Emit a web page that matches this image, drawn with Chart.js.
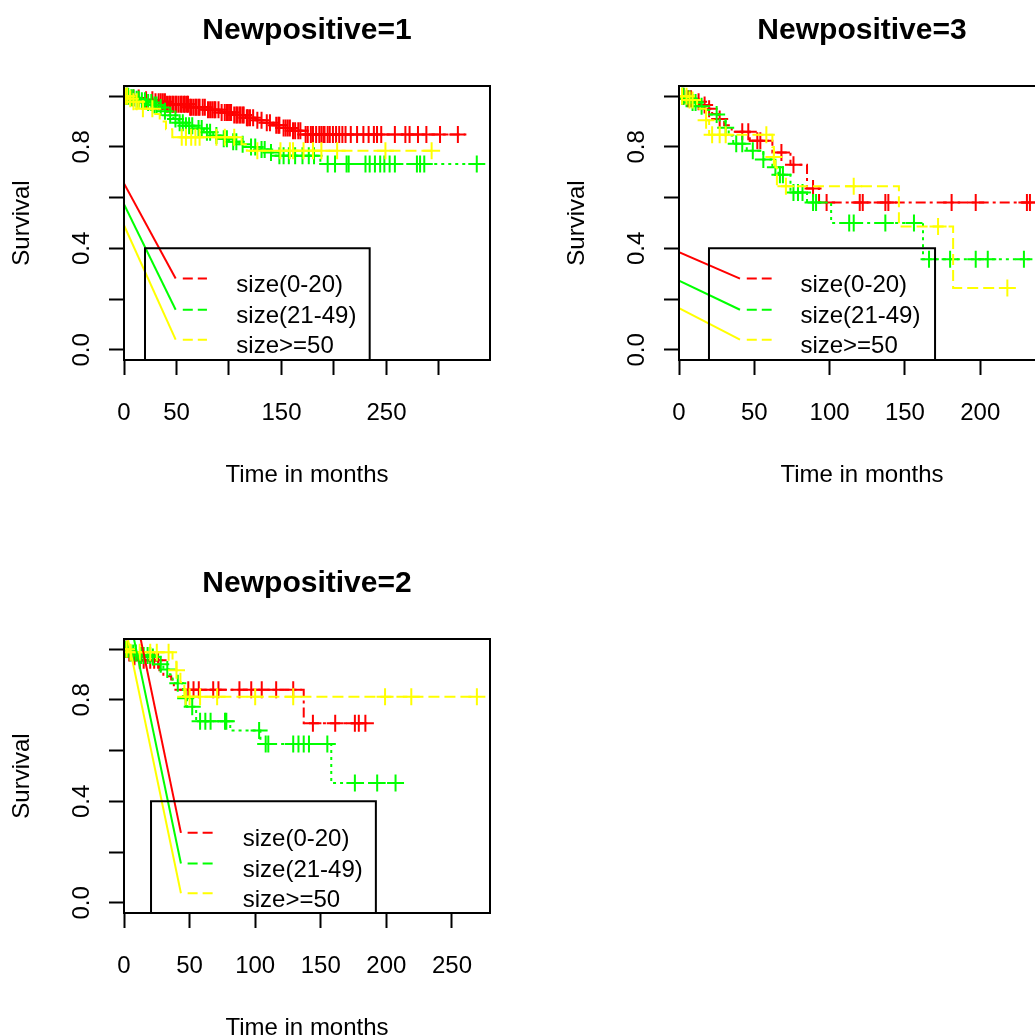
<!DOCTYPE html>
<html>
<head>
<meta charset="utf-8">
<script src="https://cdn.jsdelivr.net/npm/chart.js@4.4.1/dist/chart.umd.min.js"></script>
<style>
html, body { margin: 0; padding: 0; background: #fff; overflow: hidden; width: 1035px; height: 1035px; }
.panel { position: absolute; }
</style>
</head>
<body>
<div class="panel" style="left:0;top:0"><canvas id="p1" width="553" height="553"></canvas></div>
<div class="panel" style="left:555px;top:0"><canvas id="p2" width="553" height="553"></canvas></div>
<div class="panel" style="left:0;top:553px"><canvas id="p3" width="553" height="553"></canvas></div>
<script>
// Kaplan-Meier curves by tumour size, one panel per Newpositive group

// shared axis ticks
const yTicks = [0, 0.2, 0.4, 0.6, 0.8, 1.0];
const yTickLabels = ['0.0', '', '0.4', '', '0.8', ''];
const p1XTicks = [0, 50, 100, 150, 200, 250, 300];
const p1XTickLabels = ['0', '50', '', '150', '', '250', ''];
const p2XTicks = [0, 50, 100, 150, 200];
const p2XTickLabels = ['0', '50', '100', '150', '200'];
const p3XTicks = [0, 50, 100, 150, 200, 250];
const p3XTickLabels = ['0', '50', '100', '150', '200', '250'];
const legendLabels = ['size(0-20)', 'size(21-49)', 'size>=50'];

// Newpositive=1
const p1RedTime = [0, 8, 18, 30, 40, 62, 80, 92, 104, 116, 126, 135, 142, 150, 160, 171, 325];
const p1RedSurv = [1, 0.993, 0.986, 0.978, 0.968, 0.956, 0.946, 0.936, 0.926, 0.915, 0.905, 0.895, 0.885, 0.874, 0.864, 0.849, 0.849];
const p1RedCensor = [3, 9, 14, 21, 27, 30, 33, 35, 37, 39, 41, 43, 44, 46, 47, 49, 50, 52, 54, 55, 57, 58, 60, 61, 63, 64, 66, 68, 69, 71, 72, 75, 77, 80, 82, 84, 86, 87, 90, 93, 96, 98, 99, 101, 102, 105, 107, 108, 110, 111, 113, 114, 117, 118, 120, 123, 127, 131, 136, 139, 145, 147, 148, 152, 154, 156, 158, 161, 163, 166, 168, 173, 175, 178, 180, 183, 186, 188, 190, 191, 194, 196, 199, 202, 205, 208, 211, 216, 222, 228, 233, 238, 241, 245, 258, 268, 272, 280, 288, 301, 318];
const p1GreenTime = [0, 5, 10, 16, 22, 28, 33, 37, 42, 47, 52, 58, 68, 76, 85, 92, 100, 110, 118, 128, 137, 143, 187, 336];
const p1GreenSurv = [1, 0.994, 0.988, 0.982, 0.975, 0.965, 0.955, 0.94, 0.925, 0.91, 0.895, 0.883, 0.872, 0.858, 0.845, 0.832, 0.82, 0.81, 0.8, 0.79, 0.778, 0.765, 0.733, 0.733];
const p1GreenCensor = [2, 4, 7, 9, 12, 14, 17, 20, 23, 26, 29, 31, 35, 39, 44, 49, 53, 56, 59, 62, 65, 71, 74, 79, 82, 88, 95, 98, 104, 107, 113, 121, 125, 131, 134, 140, 148, 152, 157, 163, 170, 176, 181, 194, 201, 212, 214, 230, 234, 239, 244, 248, 253, 258, 279, 282, 286, 336];
const p1YellowTime = [0, 4, 8, 14, 28, 34, 40, 46, 112, 117, 293];
const p1YellowSurv = [1, 0.99, 0.978, 0.95, 0.93, 0.9, 0.87, 0.838, 0.81, 0.785, 0.785];
const p1YellowCensor = [1, 3, 6, 9, 12, 18, 27, 55, 59, 64, 68, 72, 88, 96, 105, 127, 149, 158, 161, 171, 180, 188, 203, 249, 293];

// Newpositive=3
const p2RedTime = [0, 4, 9, 14, 18, 22, 26, 30, 35, 47, 62, 74, 85, 93, 234];
const p2RedSurv = [1, 0.99, 0.978, 0.965, 0.95, 0.93, 0.91, 0.885, 0.86, 0.824, 0.778, 0.73, 0.636, 0.581, 0.581];
const p2RedCensor = [3, 6, 8, 13, 17, 20, 27, 42, 46, 52, 54, 68, 76, 89, 98, 120, 122, 137, 139, 181, 197, 231, 233];
const p2GreenTime = [0, 4, 8, 12, 16, 20, 27, 31, 33, 36, 45, 56, 62, 66, 74, 85, 101, 162, 234];
const p2GreenSurv = [1, 0.99, 0.975, 0.96, 0.945, 0.928, 0.9, 0.875, 0.845, 0.812, 0.785, 0.75, 0.72, 0.69, 0.62, 0.581, 0.5, 0.357, 0.357];
const p2GreenCensor = [2, 3, 5, 7, 9, 11, 15, 25, 31, 38, 42, 49, 56, 64, 67, 69, 76, 79, 82, 89, 91, 113, 116, 137, 156, 166, 180, 197, 205, 229];
const p2YellowTime = [0, 6, 12, 18, 20, 62, 63, 64, 65, 146, 182, 218];
const p2YellowSurv = [1, 0.985, 0.95, 0.905, 0.848, 0.8, 0.76, 0.72, 0.645, 0.486, 0.244, 0.244];
const p2YellowCensor = [2, 5, 7, 9, 18, 22, 27, 31, 58, 63, 71, 116, 172, 218];

// Newpositive=2
const p3RedTime = [0, 3, 6, 10, 27, 30, 36, 38, 137, 184];
const p3RedSurv = [1, 0.985, 0.97, 0.956, 0.917, 0.893, 0.88, 0.84, 0.708, 0.708];
const p3RedCensor = [1, 2, 4, 8, 12, 15, 20, 23, 26, 49, 53, 57, 68, 72, 88, 97, 105, 116, 129, 144, 161, 176, 179, 184];
const p3GreenTime = [0, 5, 12, 22, 25, 30, 35, 37, 45, 48, 55, 81, 104, 158, 207];
const p3GreenSurv = [1, 0.985, 0.975, 0.969, 0.94, 0.92, 0.9, 0.866, 0.806, 0.773, 0.716, 0.679, 0.626, 0.472, 0.472];
const p3GreenCensor = [1, 3, 5, 7, 9, 13, 15, 18, 20, 22, 28, 33, 41, 47, 52, 58, 62, 66, 77, 78, 103, 108, 110, 129, 133, 137, 141, 155, 176, 193, 207];
const p3YellowTime = [0, 3, 37, 40, 43, 46, 269];
const p3YellowSurv = [1, 0.988, 0.95, 0.917, 0.87, 0.8125, 0.8125];
const p3YellowCensor = [2, 5, 12, 20, 25, 34, 40, 47, 50, 58, 71, 100, 129, 199, 219, 269];

// legend placement, in data units of each panel
const p1Legend = { box: [20, 234, 0.4], rows: [0.281, 0.158, 0.04], seg: [56, 79], textX: 107,
  fromX: [0, 0, 0], fromY: [0.656, 0.574, 0.491], toX: 49.2 };
const p2Legend = { box: [19.9, 170, 0.4], rows: [0.281, 0.158, 0.04], seg: [45, 61.5], textX: 80.6,
  fromX: [0, 0, 0], fromY: [0.385, 0.273, 0.164], toX: 40.5 };
const p3Legend = { box: [20.6, 192, 0.4], rows: [0.276, 0.155, 0.038], seg: [48.5, 68], textX: 90.5,
  fromX: [12.7, 7.6, 3.0], fromY: [1.04, 1.04, 1.04], toX: 43.4 };

const FONT = '"Liberation Sans", Arial, Helvetica, sans-serif';
const colors = ['#ff0000', '#00ff00', '#ffff00'];
const dashes = [[3, 4, 10, 4], [3, 4], [11, 5]];

function survAt(time, surv, t) {
  let s = surv[0];
  for (let i = 0; i < time.length; i++) if (time[i] <= t) s = surv[i];
  return s;
}

// draws the plot frame, the main title over the plot region and the legend text
const rFrame = {
  id: 'rFrame',
  afterDraw(chart, args, opts) {
    const { ctx, chartArea: a, scales: { x, y } } = chart;
    ctx.save();
    ctx.strokeStyle = '#000';
    ctx.lineWidth = 2;
    ctx.strokeRect(a.left, a.top, a.right - a.left, a.bottom - a.top);
    ctx.fillStyle = '#000';
    ctx.font = 'bold 30px ' + FONT;
    ctx.textAlign = 'center';
    ctx.textBaseline = 'alphabetic';
    ctx.fillText(opts.title, (a.left + 490) / 2, 39);
    ctx.font = '24px ' + FONT;
    ctx.textAlign = 'left';
    legendLabels.forEach((t, i) => {
      ctx.fillText(t, x.getPixelForValue(opts.leg.textX), y.getPixelForValue(opts.leg.rows[i]) + 13.5);
    });
    ctx.restore();
  }
};

function buildPanel(id, title, xMax, xTicks, xLabels, groups, leg) {
  const datasets = [];
  groups.forEach((g, k) => {
    datasets.push({
      data: g.time.map((t, i) => ({ x: t, y: g.surv[i] })),
      borderColor: colors[k], borderWidth: 2, borderDash: dashes[k],
      stepped: 'before', pointRadius: 0, fill: false, clip: 0, order: 30 - k * 10
    });
    datasets.push({
      data: g.censor.map(t => ({ x: t, y: survAt(g.time, g.surv, t) })),
      showLine: false, pointStyle: 'cross', pointRadius: 8.5, pointBorderWidth: 2,
      pointBorderColor: colors[k], borderColor: colors[k], clip: 0, order: 29 - k * 10
    });
    datasets.push({
      data: [{ x: leg.fromX[k], y: leg.fromY[k] }, { x: leg.toX, y: leg.rows[k] }],
      borderColor: colors[k], borderWidth: 2, pointRadius: 0, clip: 0, order: 1
    });
    datasets.push({
      data: [{ x: leg.seg[0], y: leg.rows[k] }, { x: leg.seg[1], y: leg.rows[k] }],
      borderColor: colors[k], borderWidth: 2, borderDash: [10, 5], pointRadius: 0, clip: 0, order: 1
    });
  });
  datasets.push({
    data: [{ x: leg.box[0], y: -0.2 }, { x: leg.box[0], y: leg.box[2] }, { x: leg.box[1], y: leg.box[2] }, { x: leg.box[1], y: -0.2 }],
    borderColor: '#000', borderWidth: 2, pointRadius: 0, clip: 0, order: 0
  });

  new Chart(document.getElementById(id), {
    type: 'line',
    data: { datasets },
    plugins: [rFrame],
    options: {
      responsive: false,
      animation: false,
      events: [],
      layout: { padding: { top: 86, left: 0, right: 63, bottom: 0 } },
      plugins: {
        legend: { display: false },
        tooltip: { enabled: false },
        title: { display: false },
        rFrame: { leg, title }
      },
      scales: {
        x: {
          type: 'linear', position: 'bottom', min: 0, max: xMax,
          afterFit: s => { s.height = 193; },
          afterBuildTicks: s => { s.ticks = xTicks.map(v => ({ value: v })); },
          ticks: {
            autoSkip: false, maxRotation: 0, minRotation: 0, padding: 24, color: '#000',
            font: { family: FONT, size: 24 },
            callback: (v, i) => xLabels[i]
          },
          grid: { drawOnChartArea: false, drawTicks: true, tickLength: 15, tickColor: '#000', tickWidth: 2 },
          border: { display: true, color: '#000', width: 2 },
          title: { display: true, text: 'Time in months', color: '#000', font: { family: FONT, size: 24 }, padding: { top: 0, bottom: 63.6 } }
        },
        y: {
          type: 'linear', position: 'left', min: -0.04, max: 1.04,
          afterFit: s => { s.width = 124; },
          afterBuildTicks: s => { s.ticks = yTicks.map(v => ({ value: v })); },
          ticks: {
            autoSkip: false, minRotation: 90, maxRotation: 90, crossAlign: 'center', padding: 9.8, color: '#000',
            font: { family: FONT, size: 24 },
            callback: (v, i) => yTickLabels[i]
          },
          grid: { drawOnChartArea: false, drawTicks: true, tickLength: 15, tickColor: '#000', tickWidth: 2 },
          border: { display: true, color: '#000', width: 2 },
          title: { display: true, text: 'Survival', color: '#000', font: { family: FONT, size: 24 }, padding: { top: 7.6, bottom: 0 } }
        }
      }
    }
  });
}

buildPanel('p1', 'Newpositive=1', 348.6, p1XTicks, p1XTickLabels, [
  { time: p1RedTime, surv: p1RedSurv, censor: p1RedCensor },
  { time: p1GreenTime, surv: p1GreenSurv, censor: p1GreenCensor },
  { time: p1YellowTime, surv: p1YellowSurv, censor: p1YellowCensor }
], p1Legend);

buildPanel('p2', 'Newpositive=3', 243, p2XTicks, p2XTickLabels, [
  { time: p2RedTime, surv: p2RedSurv, censor: p2RedCensor },
  { time: p2GreenTime, surv: p2GreenSurv, censor: p2GreenCensor },
  { time: p2YellowTime, surv: p2YellowSurv, censor: p2YellowCensor }
], p2Legend);

buildPanel('p3', 'Newpositive=2', 279, p3XTicks, p3XTickLabels, [
  { time: p3RedTime, surv: p3RedSurv, censor: p3RedCensor },
  { time: p3GreenTime, surv: p3GreenSurv, censor: p3GreenCensor },
  { time: p3YellowTime, surv: p3YellowSurv, censor: p3YellowCensor }
], p3Legend);
</script>
</body>
</html>
